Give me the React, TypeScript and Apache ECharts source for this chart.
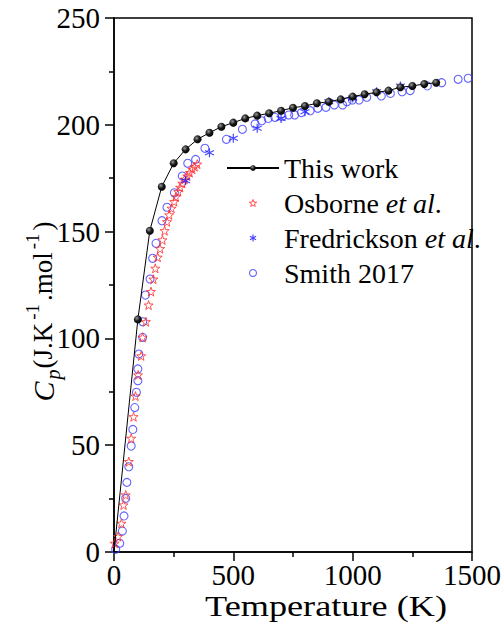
import React, { useEffect, useRef } from "react";
import * as echarts from "echarts";

// This work (T in K, Cp in J/K/mol)
const thisWorkT = [0, 100, 150, 200, 250, 300, 350, 400, 450, 500, 550, 600, 650, 700, 750, 800, 850, 900, 950, 1000, 1050, 1100, 1150, 1200, 1250, 1300, 1350];
const thisWorkCp = [0, 108.9, 150.4, 171.0, 182.0, 188.5, 193.2, 196.3, 199.1, 201.0, 203.0, 204.3, 205.4, 206.6, 208.0, 208.8, 210.1, 210.8, 211.9, 213.2, 214.3, 215.2, 216.0, 217.6, 218.2, 219.1, 219.7];

// Osborne et al.
const osborneT = [3, 17, 31, 40, 49, 62, 72, 82, 90, 101, 114, 120, 134, 145, 155, 165, 173, 183, 193, 203, 212, 222, 231, 241, 252, 259, 269, 277, 286, 296, 307, 317, 328, 338, 349];
const osborneCp = [4.1, 7.2, 13.4, 22, 26.7, 42.3, 53.2, 63.3, 73, 82.9, 91.8, 100.5, 107.8, 115.6, 121.9, 127.7, 132.8, 138, 142, 146.1, 150.4, 154.6, 157.8, 160.9, 164, 166.3, 168.7, 170.7, 172.6, 174.5, 176, 177.6, 179.2, 180.4, 181.6];

// Fredrickson et al.
const fredT = [300, 400, 500, 600, 700, 800, 900, 1000, 1100, 1200];
const fredCp = [173.8, 186.9, 193.7, 198.4, 203, 206.1, 210.8, 212.5, 215.5, 218.2];

// Smith 2017
const smithT = [7, 24, 35, 42, 49, 54, 62, 72, 79, 87, 94, 100, 100, 104, 120, 120, 132, 151, 162, 176, 201, 222, 253, 286, 309, 342, 381, 471, 538, 591, 619, 646, 674, 704, 732, 757, 785, 822, 854, 888, 923, 958, 976, 999, 1027, 1059, 1120, 1158, 1207, 1241, 1313, 1373, 1442, 1484];
const smithCp = [1.3, 4.1, 9.8, 16.9, 25.1, 32.6, 39.9, 49.6, 57.4, 67.6, 74.8, 80.2, 85.7, 92.7, 100.5, 107.8, 120.3, 127.8, 137.5, 144.5, 155.1, 161.4, 168.2, 176, 182, 183.8, 189, 193.2, 197.9, 200.4, 201.9, 203, 203.5, 203.8, 204.6, 204.6, 205.7, 206.6, 207.7, 208.2, 209.3, 209.3, 210.8, 211.6, 211.6, 212.9, 213.5, 214.7, 215.5, 216, 218.2, 219.7, 221.3, 221.8];

const xTicks = [0, 500, 1000, 1500];
const yTicks = [0, 50, 100, 150, 200, 250];

const SERIF = "Liberation Serif";
const STAR = "path://M0,-10 L2.35,-3.24 L9.51,-3.09 L3.8,1.24 L5.88,8.09 L0,4 L-5.88,8.09 L-3.8,1.24 L-9.51,-3.09 L-2.35,-3.24 Z";
const ASTER = "path://M0,-10 L0,10 M-8.66,-5 L8.66,5 M-8.66,5 L8.66,-5";

const RED = "#ff2a2a";
const BLUE_C = "#3c3cff";
const BLUE_A = "#1a1aff";

const zip = (a: number[], b: number[]) => a.map((v, i) => [v, b[i]]);

export default function App() {
  const ref = useRef<HTMLDivElement>(null);
  useEffect(() => {
    if (!ref.current) return;
    const chart = echarts.init(ref.current, null, { renderer: "svg" });
    const twData = zip(thisWorkT, thisWorkCp).map((p, i) =>
      i === 0 ? { value: p, symbol: "none" } : { value: p }
    );
    const ball = {
      type: "radial",
      x: 0.38,
      y: 0.35,
      r: 0.7,
      colorStops: [
        { offset: 0, color: "#9a9a9a" },
        { offset: 0.5, color: "#1a1a1a" },
        { offset: 1, color: "#000" },
      ],
    };
    const starStyle = { color: "rgba(0,0,0,0)", borderColor: RED, borderWidth: 1 };
    const circStyle = { color: "rgba(0,0,0,0)", borderColor: BLUE_C, borderWidth: 1.1 };
    const astStyle = { color: "rgba(0,0,0,0)", borderColor: BLUE_A, borderWidth: 1.2 };
    const TT = 28;
    chart.setOption({
      animation: false,
      backgroundColor: "#fff",
      grid: { left: 114, right: 28, top: 18, bottom: 79, show: true, borderColor: "#000", borderWidth: 1.5 },
      graphic: [
        {
          type: "text",
          x: 326,
          y: 606,
          style: {
            text: "Temperature (K)",
            font: `29px "${SERIF}"`,
            fill: "#000",
            align: "center",
            verticalAlign: "middle",
          },
          scaleX: 1.25,
        },
        {
          type: "text",
          x: 43,
          y: 312,
          rotation: Math.PI / 2,
          style: {
            text: "{c|C}{p|p}{t|(J.K}{s|-1}{t|.mol}{s|-1}{t|)}",
            align: "center",
            verticalAlign: "middle",
            fill: "#000",
            rich: {
              c: { fontFamily: SERIF, fontStyle: "italic", fontSize: 30, fill: "#000", lineHeight: 40, verticalAlign: "middle", width: 22 },
              p: { fontFamily: SERIF, fontStyle: "italic", fontSize: 20, fill: "#000", lineHeight: 20, verticalAlign: "bottom", width: 12 },
              t: { fontFamily: SERIF, fontSize: 27, fill: "#000", lineHeight: 40, verticalAlign: "middle" },
              s: { fontFamily: SERIF, fontSize: 19, fill: "#000", lineHeight: 19, verticalAlign: "top", padding: [0, 3, 0, 3] },
            },
          },
        },
      ],
      xAxis: {
        type: "value",
        min: 0,
        max: 1500,
        interval: 500,
        axisLine: { show: true, lineStyle: { color: "#000", width: 1.5 } },
        axisTick: { show: true, inside: false, length: 9, lineStyle: { color: "#000", width: 1.5 } },
        minorTick: { show: true, splitNumber: 2, length: 5, lineStyle: { color: "#000", width: 1.5 } },
        splitLine: { show: false },
        axisLabel: {
          fontFamily: SERIF,
          fontSize: 29,
          color: "#000",
          margin: 8,
          formatter: (v: number) => (xTicks.includes(v) ? String(v) : ""),
        },
      },
      yAxis: {
        type: "value",
        min: 0,
        max: 250,
        interval: 50,
        axisLine: { show: true, lineStyle: { color: "#000", width: 1.5 } },
        axisTick: { show: true, inside: false, length: 9, lineStyle: { color: "#000", width: 1.5 } },
        minorTick: { show: true, splitNumber: 2, length: 5, lineStyle: { color: "#000", width: 1.5 } },
        splitLine: { show: false },
        axisLabel: {
          fontFamily: SERIF,
          fontSize: 29,
          color: "#000",
          margin: 14,
          formatter: (v: number) => (yTicks.includes(v) ? String(v) : ""),
        },
      },
      legend: {
        orient: "vertical",
        left: 221,
        top: 149,
        itemWidth: 52,
        itemHeight: 7,
        itemGap: 7,
        textStyle: {
          fontFamily: SERIF,
          fontSize: TT,
          color: "#000",
          lineHeight: 28,
          rich: {
            r: { fontFamily: SERIF, fontSize: TT, color: "#000" },
            i: { fontFamily: SERIF, fontSize: TT, color: "#000", fontStyle: "italic" },
          },
        },
        formatter: (name: string) => {
          if (name === "Osborne et al.") return "{r|Osborne }{i|et al}{r|.}";
          if (name === "Fredrickson et al.") return "{r|Fredrickson }{i|et al}{r|.}";
          return "{r|" + name + "}";
        },
        data: [
          { name: "This work" },
          { name: "Osborne et al.", itemStyle: starStyle },
          { name: "Fredrickson et al.", itemStyle: astStyle },
          { name: "Smith 2017", itemStyle: circStyle },
        ],
      },
      series: [
        {
          name: "Smith 2017",
          type: "scatter",
          symbol: "circle",
          symbolSize: 8,
          itemStyle: circStyle,
          data: zip(smithT, smithCp),
          z: 2,
        },
        {
          name: "Osborne et al.",
          type: "scatter",
          symbol: STAR,
          symbolSize: 9,
          itemStyle: starStyle,
          data: zip(osborneT, osborneCp),
          z: 3,
        },
        {
          name: "Fredrickson et al.",
          type: "scatter",
          symbol: ASTER,
          symbolSize: 9,
          itemStyle: astStyle,
          data: zip(fredT, fredCp),
          z: 4,
        },
        {
          name: "This work",
          type: "line",
          symbol: "circle",
          symbolSize: 8,
          showAllSymbol: true,
          lineStyle: { color: "#000", width: 1 },
          itemStyle: { color: ball as any, borderWidth: 0 },
          data: twData,
          z: 5,
        },
      ],
    });
    return () => chart.dispose();
  }, []);
  return <div ref={ref} style={{ width: 504, height: 631, position: "absolute", left: 0, top: 0 }} />;
}
